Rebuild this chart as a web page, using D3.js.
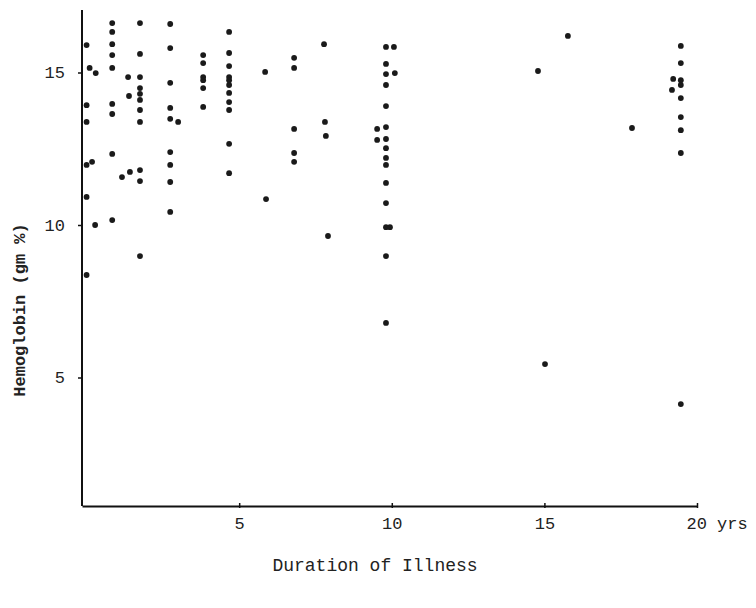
<!DOCTYPE html>
<html>
<head>
<meta charset="utf-8">
<script src="https://cdn.jsdelivr.net/npm/d3@7"></script>
<style>
  body { margin: 0; background: #fff; }
  text { font-family: "Liberation Mono", "DejaVu Sans Mono", monospace; fill: #222; }
</style>
</head>
<body>
<div id="chart"></div>
<script>
// duration of illness (yrs) and hemoglobin (gm %) for each patient
var duration = [
  0, 0, 0, 0, 0, 0, 0.18, 0.1, 0.3, 0.28,
  0.84, 0.84, 0.84, 0.84, 0.84, 0.84, 0.84, 0.84, 0.84,
  1.16, 1.42, 1.36, 1.39,
  1.75, 1.75, 1.75, 1.75, 1.75, 1.75, 1.75, 1.75, 1.75, 1.75, 1.75,
  2.74, 2.74, 2.74, 2.74, 2.74, 2.74, 2.74, 2.74, 2.74, 3.0,
  3.82, 3.82, 3.82, 3.82, 3.82, 3.82,
  4.67, 4.67, 4.67, 4.67, 4.67, 4.67, 4.67, 4.67, 4.67, 4.67, 4.67,
  5.85, 5.88,
  6.8, 6.8, 6.8, 6.8, 6.8,
  7.78, 7.81, 7.84, 7.91,
  9.52, 9.52,
  9.81, 9.81, 9.81, 9.81, 9.81, 9.81, 9.81, 9.81, 9.81, 9.81, 9.81, 9.81, 9.81, 9.81, 9.81,
  10.07, 10.1, 9.94,
  14.79, 15.77, 17.87, 15.02,
  19.47, 19.47, 19.47, 19.47, 19.47, 19.47, 19.47, 19.47, 19.47, 19.22, 19.18
];
var hemoglobin = [
  15.9, 13.93, 13.38, 11.97, 10.92, 8.36, 12.07, 15.15, 14.98, 10.0,
  16.62, 16.33, 15.93, 15.57, 15.15, 13.97, 13.64, 12.33, 10.16,
  11.57, 11.74, 14.85, 14.23,
  16.62, 15.61, 14.85, 14.49, 14.3, 14.1, 13.77, 13.38, 11.8, 11.44, 8.98,
  16.59, 15.8, 14.66, 13.84, 13.48, 12.39, 11.97, 11.41, 10.43, 13.38,
  15.57, 15.31, 14.85, 14.75, 14.49, 13.87,
  16.33, 15.64, 15.21, 14.85, 14.75, 14.59, 14.33, 14.03, 13.77, 12.66, 11.7,
  15.02, 10.85,
  15.48, 15.15, 13.15, 12.36, 12.07,
  15.93, 13.38, 12.92, 9.64,
  13.15, 12.79,
  15.84, 15.28, 14.95, 14.59, 13.9, 13.21, 12.82, 12.52, 12.2, 11.97, 11.38, 10.72, 9.93, 8.98, 6.79,
  15.84, 14.98, 9.93,
  15.05, 16.2, 13.18, 5.44,
  15.87, 15.31, 14.75, 14.59, 14.16, 13.54, 13.11, 12.36, 4.13, 14.79, 14.43
];
var xTicks = [5, 10, 15, 20];
var yTicks = [5, 10, 15];

var points = duration.map(function(d, i) { return {x: d, y: hemoglobin[i]}; });

var width = 756, height = 608;
var svg = d3.select("#chart")
  .append("svg")
    .attr("width", width)
    .attr("height", height);

var x = d3.scaleLinear()
    .domain([-0.15, 20])
    .range([82, 697]);
var y = d3.scaleLinear()
    .domain([0, 15])
    .range([530, 72.5]);

var axisY = 506;  // where the horizontal axis sits

// x axis
var gx = svg.append("g")
    .attr("transform", "translate(0," + axisY + ")")
    .call(d3.axisBottom(x).tickValues(xTicks).tickSize(4).tickSizeOuter(0)
      .tickFormat(function(d) { return d == 20 ? "20 yrs" : d; }));
gx.select(".domain").attr("stroke", "#111").attr("stroke-width", 2);
gx.selectAll(".tick line").attr("stroke", "#111").attr("stroke-width", 1.5).attr("y1", -3).attr("y2", 2);
gx.selectAll(".tick text")
    .attr("y", 11)
    .style("font-size", "17px");
// keep the number centred on its tick, "yrs" hangs off to the right
gx.selectAll(".tick text").filter(function(d) { return d == 20; })
    .attr("text-anchor", "start")
    .attr("dx", -11);

// y axis
var gy = svg.append("g")
    .attr("transform", "translate(" + x(-0.15) + ",0)")
    .call(d3.axisLeft(y).tickValues(yTicks).tickSize(4).tickSizeOuter(0));
gy.select(".domain").attr("stroke", "#111").attr("stroke-width", 2)
    .attr("d", "M0," + axisY + "V10");
gy.selectAll(".tick line").attr("stroke", "#111").attr("stroke-width", 1.5);
gy.selectAll(".tick text")
    .attr("x", -17)
    .style("font-size", "17px");

// axis titles
svg.append("text")
    .attr("x", 375)
    .attr("y", 571)
    .attr("text-anchor", "middle")
    .style("font-size", "18px")
    .text("Duration of Illness");
svg.append("text")
    .attr("transform", "translate(25,310) rotate(-90)")
    .attr("text-anchor", "middle")
    .style("font-size", "17px")
    .style("font-weight", "bold")
    .text("Hemoglobin (gm %)");

// dots
svg.append("g")
  .selectAll("circle")
  .data(points)
  .enter()
  .append("circle")
    .attr("cx", function(d) { return x(d.x); })
    .attr("cy", function(d) { return y(d.y); })
    .attr("r", 2.9)
    .style("fill", "#1a1a1a");
</script>
</body>
</html>
